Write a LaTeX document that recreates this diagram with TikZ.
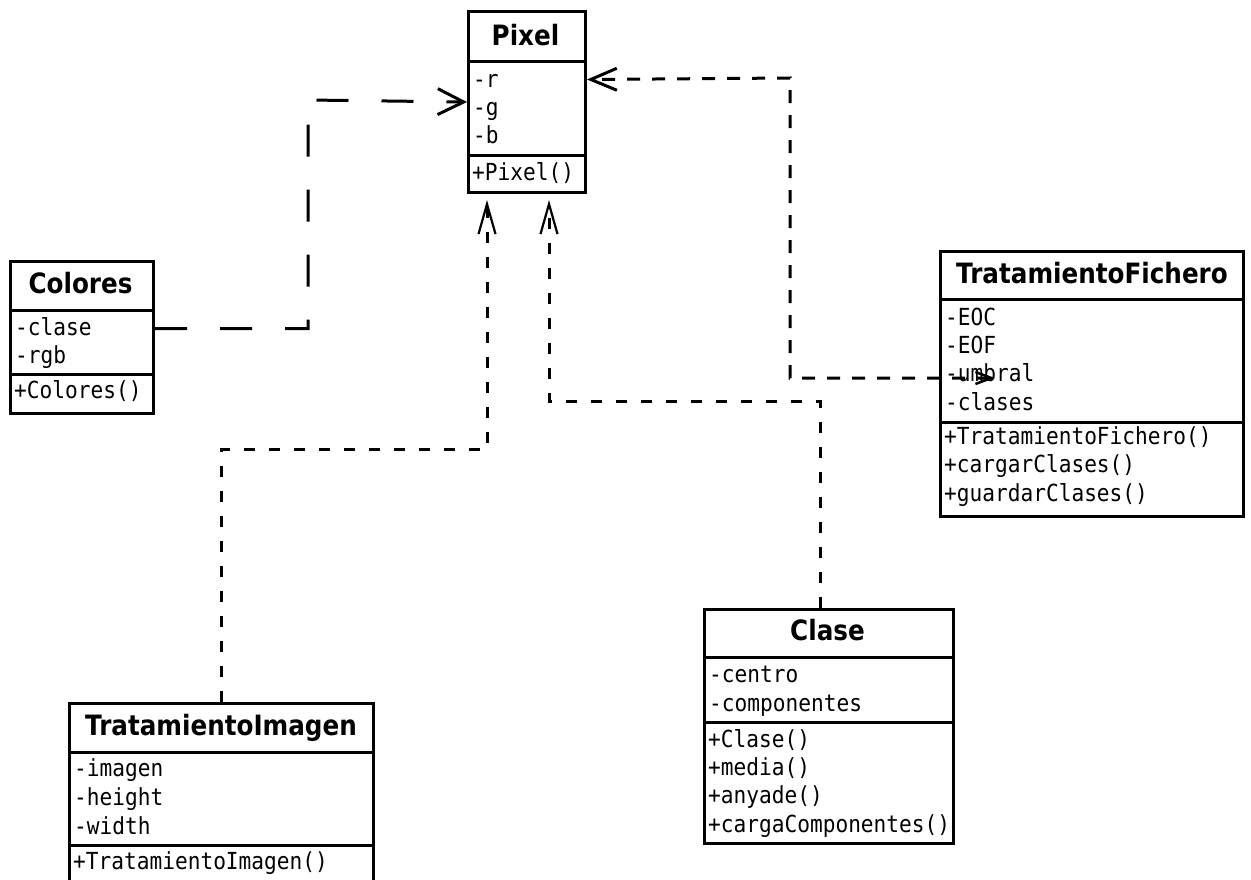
\documentclass[tikz,border=0pt]{standalone}
\usepackage{fontspec}
\setmainfont{DejaVu Sans}
\newfontfamily\tfont{DejaVu Sans}[FakeStretch=0.88]
\newfontfamily\mfont{DejaVu Sans Mono}[FakeStretch=0.9]
\usetikzlibrary{arrows.meta}
\tikzset{
  box/.style={draw, line width=3pt, inner sep=0pt, anchor=north west},
  sep/.style={line width=3pt},
  ttl/.style={anchor=base, inner sep=0pt, font=\tfont\bfseries\fontsize{28}{30}\selectfont},
  row/.style={anchor=base west, inner sep=0pt, font=\mfont\fontsize{23.5}{28}\selectfont},
  depLong/.style={line width=3pt, dash pattern=on 32pt off 33pt,
     -{Straight Barb[length=26pt,width=26pt,line width=3pt]}},
  depUp/.style={line width=3pt, dash pattern=on 11pt off 14pt, shorten >=6pt,
     -{Straight Barb[length=30pt,width=17pt,line width=2.2pt]}},
  depTF/.style={line width=3pt, dash pattern=on 13pt off 12pt,
     {Straight Barb[length=16pt,width=12pt,line width=2.5pt]}-{Straight Barb[length=26pt,width=22pt,line width=3pt]}},
}
\begin{document}
\begin{tikzpicture}[x=1pt,y=-1pt]
\useasboundingbox (0,0) rectangle (1251,879);

% Pixel
\node[box, minimum width=117pt, minimum height=181pt] (pixel) at (467,10) {};
\draw[sep] (467,61) -- (584,61);
\draw[sep] (467,155) -- (584,155);
\node[ttl] (pixelT) at (525.5,45) {Pixel};
\node[row] (pr) at (473,87) {-r};
\node[row] (pg) at (473,115) {-g};
\node[row] (pb) at (473,143) {-b};
\node[row] (pm) at (472,180) {+Pixel()};

% Colores
\node[box, minimum width=143pt, minimum height=152pt] (colores) at (9,260) {};
\draw[sep] (9,310) -- (152,310);
\draw[sep] (9,374) -- (152,374);
\node[ttl] (coloresT) at (80.5,293) {Colores};
\node[row] (c1) at (15,335) {-clase};
\node[row] (c2) at (15,363) {-rgb};
\node[row] (c3) at (14,398) {+Colores()};

% TratamientoFichero
\node[box, minimum width=303pt, minimum height=265pt] (tf) at (939,250) {};
\draw[sep] (939,299) -- (1242,299);
\draw[sep] (939,422) -- (1242,422);
\node[ttl] (tfT) at (1092,283) {TratamientoFichero};
\node[row] (f1) at (945,325) {-EOC};
\node[row] (f2) at (945,353) {-EOF};
\node[row] (f3) at (945,381) {-umbral};
\node[row] (f4) at (945,410) {-clases};
\node[row] (f5) at (944,444) {+TratamientoFichero()};
\node[row] (f6) at (944,472) {+cargarClases()};
\node[row] (f7) at (944,501) {+guardarClases()};

% TratamientoImagen
\node[box, minimum width=304pt, minimum height=200pt] (ti) at (68,702) {};
\draw[sep] (68,752) -- (372,752);
\draw[sep] (68,845) -- (372,845);
\node[ttl] (tiT) at (221,735) {TratamientoImagen};
\node[row] (i1) at (74,776) {-imagen};
\node[row] (i2) at (74,805) {-height};
\node[row] (i3) at (74,834) {-width};
\node[row] (i4) at (73,869) {+TratamientoImagen()};

% Clase
\node[box, minimum width=249pt, minimum height=234pt] (clase) at (703,608) {};
\draw[sep] (703,657) -- (952,657);
\draw[sep] (703,722) -- (952,722);
\node[ttl] (claseT) at (827.5,640) {Clase};
\node[row] (k1t) at (709,682) {-centro};
\node[row] (k2t) at (709,711) {-componentes};
\node[row] (k3t) at (708,747) {+Clase()};
\node[row] (k4t) at (708,775) {+media()};
\node[row] (k5t) at (708,803) {+anyade()};
\node[row] (k6t) at (708,832) {+cargaComponentes()};

% bend points
\coordinate (b1) at (308,100);
\coordinate (b2) at (487,449);
\coordinate (b3) at (549,401);
\coordinate (b4) at (790,78);

% connectors
\draw[depLong] ([yshift=9pt]colores.east) -| (b1) -- (pixel.west);
\draw[depUp] (ti.north) |- (b2) -- ([xshift=20pt]pixel.south west);
\draw[depUp] ([xshift=-9pt]clase.north) |- (b3) -- ([xshift=82pt]pixel.south west);
\draw[depTF] ([xshift=56pt,yshift=6pt]tf.west) -| (b4) -- ([yshift=22.5pt]pixel.east);
\end{tikzpicture}
\end{document}
